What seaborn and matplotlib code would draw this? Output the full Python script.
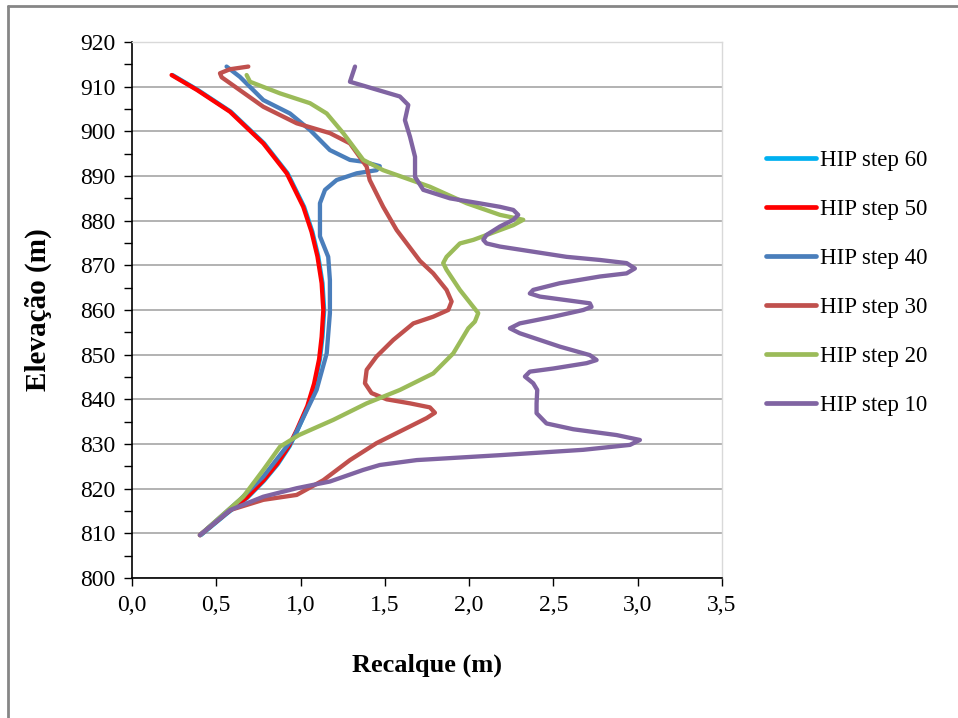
import matplotlib
matplotlib.use("Agg")
import matplotlib.pyplot as plt
from matplotlib.lines import Line2D
from matplotlib.ticker import MultipleLocator, FuncFormatter
import seaborn as sns
import pandas as pd

# Settlement (m) and elevation (m) for each HIP step
step60_x = [0.240, 0.389, 0.586, 0.784, 0.923, 1.021, 1.070, 1.105, 1.130, 1.140, 1.130,
            1.115, 1.085, 1.045, 0.982, 0.935, 0.865, 0.784, 0.685, 0.565, 0.408]
step60_y = [912.6, 909.3, 904.4, 897.3, 890.6, 883.1, 877.5, 872.0, 866.0, 860.0, 854.0,
            849.0, 843.5, 838.5, 833.1, 829.5, 825.5, 821.8, 818.0, 814.5, 809.6]

step50_x = [0.235, 0.384, 0.581, 0.779, 0.918, 1.016, 1.065, 1.100, 1.125, 1.135, 1.125,
            1.110, 1.080, 1.040, 0.977, 0.930, 0.860, 0.779, 0.680, 0.560, 0.403]
step50_y = [912.6, 909.3, 904.4, 897.3, 890.6, 883.1, 877.5, 872.0, 866.0, 860.0, 854.0,
            849.0, 843.5, 838.5, 833.1, 829.5, 825.5, 821.8, 818.0, 814.5, 809.6]

step40_x = [0.561, 0.640, 0.779, 0.937, 1.056, 1.174, 1.293, 1.372, 1.470, 1.451, 1.333,
            1.214, 1.145, 1.115, 1.115, 1.164, 1.174, 1.174, 1.155, 1.095, 1.030, 0.960,
            0.779, 0.640, 0.403]
step40_y = [914.5, 912.2, 907.0, 904.0, 900.3, 895.8, 893.6, 893.2, 892.2, 891.3, 890.6,
            889.1, 886.9, 883.9, 876.5, 871.9, 866.7, 859.3, 850.3, 842.1, 837.0, 831.5,
            822.7, 817.5, 809.6]

step30_x = [0.690, 0.581, 0.522, 0.532, 0.581, 0.779, 0.977, 1.174, 1.293, 1.392, 1.410,
            1.490, 1.570, 1.708, 1.787, 1.866, 1.896, 1.876, 1.787, 1.669, 1.550, 1.451,
            1.392, 1.382, 1.421, 1.511, 1.649, 1.767, 1.797, 1.748, 1.589, 1.451, 1.293,
            1.135, 0.977, 0.779, 0.581, 0.403]
step30_y = [914.5, 913.9, 913.0, 912.1, 910.8, 905.5, 901.8, 899.6, 897.3, 892.1, 889.1,
            883.1, 877.9, 871.0, 868.2, 864.5, 861.9, 860.0, 858.5, 857.0, 853.3, 849.6,
            846.6, 843.6, 841.4, 840.0, 839.1, 838.2, 837.0, 835.8, 832.8, 830.2, 826.4,
            821.9, 818.6, 817.5, 815.2, 809.6]

step20_x = [0.680, 0.700, 0.878, 1.056, 1.155, 1.253, 1.372, 1.490, 1.767, 1.985, 2.183,
            2.321, 2.262, 2.183, 2.025, 1.945, 1.866, 1.846, 1.866, 1.945, 2.054, 2.034,
            1.995, 1.906, 1.787, 1.589, 1.392, 1.194, 0.990, 0.878, 0.779, 0.660, 0.403]
step20_y = [912.6, 911.1, 908.5, 906.3, 904.0, 899.6, 893.6, 891.3, 887.6, 883.9, 881.3,
            880.2, 879.0, 877.9, 875.7, 874.9, 871.9, 870.5, 869.0, 864.5, 859.3, 857.4,
            855.9, 850.3, 845.8, 842.1, 839.1, 835.4, 832.0, 829.4, 824.2, 818.2, 809.6]

step10_x = [1.323, 1.293, 1.392, 1.589, 1.639, 1.619, 1.649, 1.679, 1.679, 1.728, 1.886,
            2.044, 2.183, 2.262, 2.291, 2.262, 2.183, 2.103, 2.084, 2.103, 2.183, 2.578,
            2.776, 2.934, 2.983, 2.934, 2.776, 2.538, 2.380, 2.360, 2.420, 2.578, 2.716,
            2.726, 2.677, 2.500, 2.300, 2.242, 2.300, 2.538, 2.716, 2.756, 2.697, 2.499,
            2.360, 2.331, 2.380, 2.404, 2.400, 2.400, 2.459, 2.618, 2.875, 3.013, 2.954,
            2.677, 2.183, 1.689, 1.470, 1.372, 1.174, 0.977, 0.779, 0.581, 0.403]
step10_y = [914.5, 911.1, 910.0, 907.8, 905.9, 902.5, 898.8, 894.3, 889.8, 886.9, 885.0,
            884.0, 883.1, 882.4, 881.3, 880.2, 878.7, 876.8, 875.7, 874.9, 874.2, 871.9,
            871.2, 870.5, 869.3, 868.2, 867.5, 866.0, 864.5, 863.7, 863.0, 862.2, 861.5,
            860.7, 860.0, 858.5, 857.0, 855.9, 854.8, 851.8, 849.9, 848.8, 848.1, 846.9,
            846.2, 845.1, 843.6, 842.1, 839.1, 836.9, 834.6, 833.3, 832.0, 830.9, 829.8,
            828.7, 827.5, 826.4, 825.3, 824.2, 821.6, 820.1, 818.2, 815.2, 809.6]

series_names = ["HIP step 60", "HIP step 50", "HIP step 40",
                "HIP step 30", "HIP step 20", "HIP step 10"]
series_x = [step60_x, step50_x, step40_x, step30_x, step20_x, step10_x]
series_y = [step60_y, step50_y, step40_y, step30_y, step20_y, step10_y]
colors = ["#00B0F0", "#FF0000", "#4A7EBB", "#C0504D", "#9BBB59", "#8064A2"]

sns.set_style("white")
plt.rcParams["font.family"] = ["Liberation Serif", "DejaVu Serif"]
plt.rcParams["text.color"] = "black"
plt.rcParams["axes.labelcolor"] = "black"
plt.rcParams["xtick.color"] = "black"
plt.rcParams["ytick.color"] = "black"

fig = plt.figure(figsize=(9.58, 7.18), dpi=100)
ax = fig.add_axes([132 / 958, 1 - 578 / 718, 590 / 958, 536 / 718])

for name, xs, ys, c in zip(series_names, series_x, series_y, colors):
    df = pd.DataFrame({"Recalque": xs, "Elevacao": ys})
    sns.lineplot(data=df, x="Recalque", y="Elevacao", sort=False, estimator=None,
                 color=c, linewidth=3.1, ax=ax, solid_joinstyle="round",
                 solid_capstyle="round", zorder=3)

ax.set_xlim(0, 3.5)
ax.set_ylim(800, 920)
ax.xaxis.set_major_locator(MultipleLocator(0.5))
ax.yaxis.set_major_locator(MultipleLocator(10))
ax.yaxis.set_minor_locator(MultipleLocator(5))
ax.xaxis.set_major_formatter(FuncFormatter(lambda v, p: f"{v:.1f}".replace(".", ",")))
ax.yaxis.set_major_formatter(FuncFormatter(lambda v, p: f"{v:.0f}"))

ax.grid(axis="y", which="major", color="#A6A6A6", linewidth=1.2, zorder=0)
ax.set_axisbelow(True)
for side in ("left", "bottom"):
    ax.spines[side].set_color("black")
    ax.spines[side].set_linewidth(1.2)
for side in ("top", "right"):
    ax.spines[side].set_color("#D9D9D9")
    ax.spines[side].set_linewidth(1.0)

ax.tick_params(axis="both", which="both", direction="out", color="black", width=1.0,
               labelsize=17, pad=6, labelcolor="black")
ax.tick_params(axis="y", which="both", length=6, left=True)
ax.tick_params(axis="x", which="major", length=6, bottom=True)

ax.set_xlabel("Recalque (m)", fontsize=19, fontweight="bold", labelpad=27, color="black")
ax.set_ylabel("Elevação (m)", fontsize=21, fontweight="bold", labelpad=20, color="black")

handles = [Line2D([0], [0], color=c, linewidth=3.4, solid_capstyle="round") for c in colors]
fig.legend(handles, series_names, loc="center left", bbox_to_anchor=(766 / 958, 1 - 283 / 718),
           frameon=False, fontsize=16.5, handlelength=2.2, handletextpad=0.15,
           labelspacing=1.22, borderpad=0, borderaxespad=0, labelcolor="black")

# outer chart border (left and top edges)
fig.add_artist(Line2D([8 / 958, 8 / 958], [0, 1 - 6 / 718], transform=fig.transFigure,
                      color="#868686", linewidth=2.0))
fig.add_artist(Line2D([8 / 958, 1], [1 - 6 / 718, 1 - 6 / 718], transform=fig.transFigure,
                      color="#868686", linewidth=2.0))

fig.savefig("out.png", dpi=100)
